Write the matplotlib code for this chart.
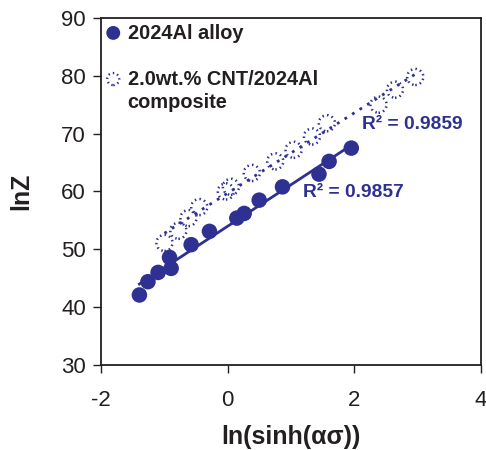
import numpy as np
import matplotlib
matplotlib.use('Agg')
import matplotlib.pyplot as plt

plt.rcParams['font.family'] = ['Liberation Sans', 'DejaVu Sans']
plt.rcParams['axes.unicode_minus'] = False

blue = '#2E3192'
dark = '#231F20'

# 2024Al alloy
x_alloy = [-1.395, -1.26, -1.10, -0.894, -0.92, -0.578, -0.289, 0.143, 0.259, 0.496, 0.864, 1.44, 1.60, 1.95]
y_alloy = [42.1, 44.4, 46.0, 46.7, 48.6, 50.8, 53.1, 55.4, 56.2, 58.5, 60.8, 63.0, 65.2, 67.5]

# 2.0wt.% CNT/2024Al composite
x_comp = [-1.0, -0.78, -0.62, -0.45, -0.03, 0.05, 0.38, 0.75, 1.04, 1.33, 1.565, 2.38, 2.64, 2.96]
y_comp = [51.1, 53.2, 55.4, 57.3, 60.0, 60.8, 63.2, 65.2, 67.2, 69.5, 71.8, 75.0, 77.6, 79.8]

fig = plt.figure(figsize=(4.86, 4.5), dpi=100)
ax = fig.add_axes([0.208, 0.189, 0.782, 0.771])

# trend lines
p1 = np.polyfit(x_alloy, y_alloy, 1)
xs = np.array([min(x_alloy), max(x_alloy)])
ax.plot(xs, np.polyval(p1, xs), color=blue, lw=2, zorder=2)
p2 = np.polyfit(x_comp, y_comp, 1)
xs = np.array([min(x_comp), max(x_comp)])
ax.plot(xs, np.polyval(p2, xs), color=blue, lw=2, ls=(0, (1, 2.2)), zorder=2)

ax.scatter(x_alloy, y_alloy, s=125, color=blue, edgecolors='none', zorder=3)
ax.scatter(x_comp, y_comp, s=135, facecolors='none', edgecolors=blue,
           linewidths=1.8, linestyles=(0, (0.6, 1.3)), zorder=3)

ax.text(2.12, 71.5, 'R² = 0.9859', color=blue, fontsize=13.8, fontweight='bold', va='center')
ax.text(1.19, 59.8, 'R² = 0.9857', color=blue, fontsize=13.8, fontweight='bold', va='center')

# legend
ax.scatter([0.032], [0.957], s=100, color=blue, edgecolors='none', transform=ax.transAxes, clip_on=False)
ax.scatter([0.032], [0.824], s=75, facecolors='none', edgecolors=blue, linewidths=1.7,
           linestyles=(0, (0.6, 1.3)), transform=ax.transAxes, clip_on=False)
ax.text(0.07, 0.955, '2024Al alloy', transform=ax.transAxes, fontsize=14.4, fontweight='bold',
        va='center', color=dark)
ax.text(0.07, 0.822, '2.0wt.% CNT/2024Al', transform=ax.transAxes, fontsize=14.4, fontweight='bold',
        va='center', color=dark)
ax.text(0.07, 0.757, 'composite', transform=ax.transAxes, fontsize=14.4, fontweight='bold',
        va='center', color=dark)

ax.set_xlim(-2, 4)
ax.set_ylim(30, 90)
ax.set_xticks([-2, 0, 2, 4])
ax.set_yticks(range(30, 91, 10))
ax.tick_params(labelsize=16, length=6, width=1, colors=dark)
ax.tick_params(axis='x', pad=12)
ax.tick_params(axis='y', pad=5)
for s in ax.spines.values():
    s.set_color(dark)
    s.set_linewidth(1.3)
ax.set_xlabel('ln(sinh(ασ))', fontsize=18, fontweight='bold', color=dark, labelpad=10)
ax.set_ylabel('lnZ', fontsize=18, fontweight='bold', color=dark, labelpad=20)

fig.savefig('out.png', dpi=100)
